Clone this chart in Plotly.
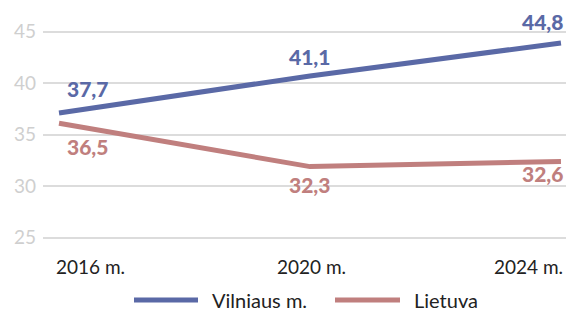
import plotly.graph_objects as go

years = [2016, 2020, 2024]
year_labels = ["2016 m.", "2020 m.", "2024 m."]
series_names = ["Vilniaus m.", "Lietuva"]
vilnius_line = [37.1, 40.7, 43.9]
lietuva_line = [36.1, 31.9, 32.4]
vilnius_labels = ["37,7", "41,1", "44,8"]
lietuva_labels = ["36,5", "32,3", "32,6"]
y_ticks = [25, 30, 35, 40, 45]

BLUE = "#5a69a6"
RED = "#c07f7e"
FONT = "Lato"

fig = go.Figure()
fig.add_trace(go.Scatter(x=years, y=vilnius_line, mode="lines", name=series_names[0],
                         line=dict(color=BLUE, width=5), showlegend=False, hoverinfo="skip"))
fig.add_trace(go.Scatter(x=years, y=lietuva_line, mode="lines", name=series_names[1],
                         line=dict(color=RED, width=5), showlegend=False, hoverinfo="skip"))

anns = []
anchors = ["left", "center", "right"]
xsh = [6, 0, 5]
for i, yr in enumerate(years):
    anns.append(dict(x=yr, y=vilnius_line[i], xref="x", yref="y", text=vilnius_labels[i],
                     showarrow=False, xanchor=anchors[i], yanchor="middle",
                     xshift=xsh[i], yshift=[25, 19, 21][i],
                     font=dict(family=FONT, size=21, color=BLUE, weight=900)))
    anns.append(dict(x=yr, y=lietuva_line[i], xref="x", yref="y", text=lietuva_labels[i],
                     showarrow=False, xanchor=anchors[i], yanchor="middle",
                     xshift=xsh[i], yshift=[-23, -18, -12][i],
                     font=dict(family=FONT, size=21, color=RED, weight=900)))
    anns.append(dict(x=yr, y=0, xref="x", yref="paper", text=year_labels[i],
                     showarrow=False, xanchor=anchors[i], yanchor="top",
                     xshift=[-5, 2, 4][i], yshift=-5,
                     font=dict(family=FONT, size=19, color="#222")))

# manual legend
legend_items = [(series_names[0], BLUE, 134, 198, 210), (series_names[1], RED, 335, 400, 412)]
shapes = []
for name, col, x0, x1, tx in legend_items:
    shapes.append(dict(type="line", xref="paper", yref="paper",
                       x0=(x0 - 43) / 523, x1=(x1 - 43) / 523,
                       y0=-(300 - 248) / 237, y1=-(300 - 248) / 237,
                       line=dict(color=col, width=5)))
    anns.append(dict(x=(tx - 43) / 523, y=-(300 - 248) / 237, xref="paper", yref="paper",
                     text=name, showarrow=False, xanchor="left", yanchor="middle",
                     font=dict(family=FONT, size=20, color="#222")))

fig.update_layout(
    width=566, height=316,
    margin=dict(l=43, r=0, t=11, b=68),
    paper_bgcolor="white", plot_bgcolor="white",
    xaxis=dict(range=[2015.745, 2024.08], showgrid=False, showticklabels=False,
               zeroline=False, showline=False),
    yaxis=dict(range=[24, 47], tickvals=y_ticks, showgrid=True, gridcolor="#dcdcdc",
               gridwidth=1.5, zeroline=False, showline=False, ticks="",
               tickfont=dict(family=FONT, size=19, color="#cfcfcf"), ticklabelstandoff=6),
    annotations=anns, shapes=shapes, showlegend=False,
)
fig.write_html("out.html", config={"displayModeBar": False},
               post_script="document.body.style.margin='0';document.body.style.overflow='hidden';")
